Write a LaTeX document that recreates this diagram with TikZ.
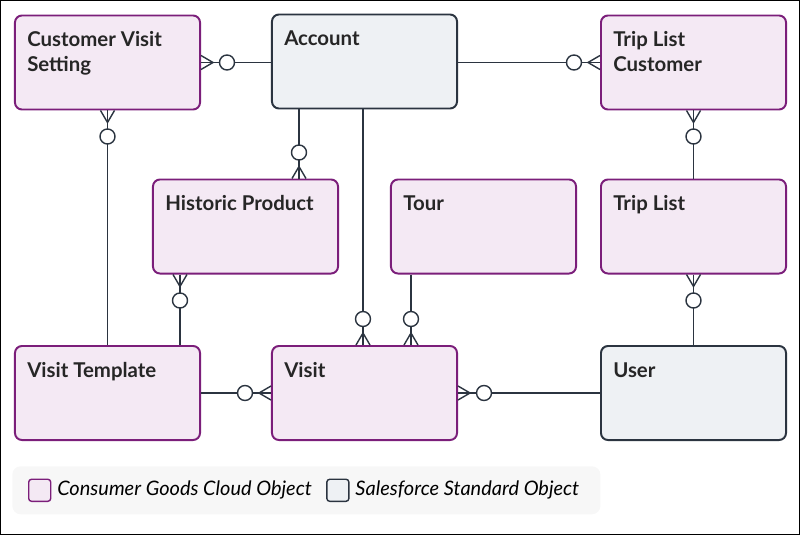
\documentclass[tikz,border=0pt]{standalone}
\usepackage{fontspec}
\setmainfont{Lato}
\usetikzlibrary{positioning, calc}
\definecolor{cgborder}{HTML}{7B1E7A}
\definecolor{cgfill}{HTML}{F4E9F4}
\definecolor{sfborder}{HTML}{2B3440}
\definecolor{sffill}{HTML}{EEF1F4}
\definecolor{linec}{HTML}{2B3440}
\begin{document}
\begin{tikzpicture}[
    x=0.025cm, y=0.025cm,
    obj/.style = {
        rectangle, draw=cgborder, fill=cgfill, line width=1.4pt,
        rounded corners=5pt, minimum width=4.625cm, minimum height=2.35cm,
        inner sep=0pt
    },
    stdobj/.style = {obj, draw=sfborder, fill=sffill},
    title/.style = {font=\fontsize{14.5}{17.5}\selectfont\bfseries, text=black!85,
        align=left, anchor=north west, inner sep=0pt},
    rel/.style = {draw=linec, line width=1pt},
    zmany/.pic = {
        \draw[rel] (0,-7) -- (12,0) -- (0,7);
        \draw[rel] (0,0) -- (12,0);
        \draw[rel, fill=white] (26,0) circle (7.5);
    }
]
\useasboundingbox (0,0) rectangle (800,535);
\draw[black, line width=1pt] (0.5,0.5) rectangle (799.5,534.5);

% ---- objects ----
\node[obj] (cvs) at (107.5,472.5) {};
\node[stdobj] (account) at (364.5,473.5) {};
\node[obj] (tlc) at (693.5,472.5) {};
\node[obj] (hist) at (245.5,308.5) {};
\node[obj] (tour) at (483.5,308.5) {};
\node[obj] (trip) at (693.5,308.5) {};
\node[obj] (vtpl) at (107.5,142) {};
\node[obj] (visit) at (364.5,142) {};
\node[stdobj] (user) at (693.5,142) {};

% ---- titles ----
\foreach \n/\t in {cvs/{Customer Visit\\Setting}, account/Account, tlc/{Trip List\\Customer},
                   hist/Historic Product, tour/Tour, trip/Trip List,
                   vtpl/Visit Template, visit/Visit, user/User}
  \node[title] at ($(\n.north west)+(13,-17)$) {\t};

% ---- attach points ----
\coordinate (acc1) at ($(account.south west)+(28,0)$);
\coordinate (acc2) at ($(account.south west)+(92,0)$);
\coordinate (vis1) at ($(visit.north west)+(92,0)$);
\coordinate (vis2) at ($(visit.north west)+(140,0)$);
\coordinate (tour1) at ($(tour.south west)+(21,0)$);
\coordinate (hist1) at ($(hist.north west)+(147,0)$);
\coordinate (hist2) at ($(hist.south west)+(28,0)$);
\coordinate (vt1) at ($(vtpl.north west)+(166,0)$);

% ---- relations ----
\draw[rel] (cvs.east) -- (cvs.east -| account.west);
\draw[rel] (account.east |- tlc.west) -- (tlc.west);
\draw[rel] (acc1) -- (hist1);
\draw[rel] (acc2) -- (vis1);
\draw[rel] (tour1) -- (vis2);
\draw[rel] (cvs.south) -- (vtpl.north);
\draw[rel] (hist2) -- (vt1);
\draw[rel] (tlc.south) -- (trip.north);
\draw[rel] (trip.south) -- (user.north);
\draw[rel] (vtpl.east) -- (visit.west);
\draw[rel] (user.west) -- (visit.east);

% ---- crow's feet ----
\pic at (cvs.east) {zmany};
\pic[rotate=180] at (tlc.west) {zmany};
\pic[rotate=90] at (hist1) {zmany};
\pic[rotate=90] at (vis1) {zmany};
\pic[rotate=90] at (vis2) {zmany};
\pic[rotate=-90] at (cvs.south) {zmany};
\pic[rotate=-90] at (hist2) {zmany};
\pic[rotate=-90] at (tlc.south) {zmany};
\pic[rotate=-90] at (trip.south) {zmany};
\pic[rotate=180] at (visit.west) {zmany};
\pic at (visit.east) {zmany};

% ---- legend ----
\node[fill=black!3, rounded corners=6pt, minimum width=14.7cm, minimum height=1.2cm,
      anchor=north west] (legend) at (12,69) {};
\node[obj, minimum width=0.55cm, minimum height=0.55cm, rounded corners=2pt, line width=1pt,
      anchor=west] (lcg) at ($(legend.west)+(16,0)$) {};
\node[right=4pt of lcg, font=\fontsize{14.2}{17}\selectfont\itshape, inner sep=0pt] (lcgt)
    {Consumer Goods Cloud Object};
\node[stdobj, minimum width=0.55cm, minimum height=0.55cm, rounded corners=2pt, line width=1pt,
      right=10pt of lcgt] (lsf) {};
\node[right=4pt of lsf, font=\fontsize{14.2}{17}\selectfont\itshape, inner sep=0pt]
    {Salesforce Standard Object};
\end{tikzpicture}
\end{document}
